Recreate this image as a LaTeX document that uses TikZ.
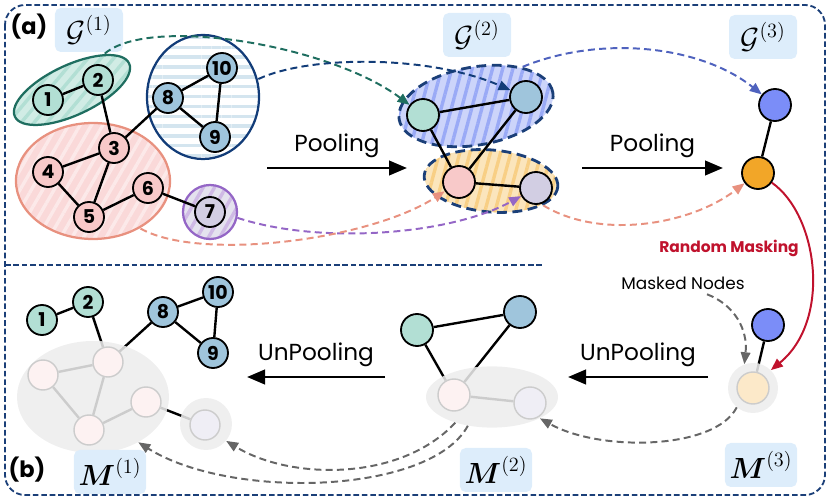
\documentclass[tikz,border=0pt]{standalone}
\usepackage{fontspec}
\setmainfont{Poppins}
\usepackage{amsmath, amssymb}
\usepackage{tikz}
\usetikzlibrary{shapes.geometric, arrows.meta, positioning, patterns.meta}

\definecolor{FrameBlue}{HTML}{1B3F78}
\definecolor{TagBlue}{HTML}{DDEDFB}
\definecolor{TealLine}{HTML}{1F6E60}
\definecolor{TealFill}{HTML}{B2DFD4}
\definecolor{PinkLine}{HTML}{E8917F}
\definecolor{PinkFill}{HTML}{F8C9C9}
\definecolor{NavyLine}{HTML}{123C78}
\definecolor{BlueFill}{HTML}{9FC5DC}
\definecolor{PurpLine}{HTML}{9466C6}
\definecolor{PurpFill}{HTML}{D2CEE3}
\definecolor{SuperBlue}{HTML}{7B8DF8}
\definecolor{SuperOrange}{HTML}{F2A628}
\definecolor{HatchBlue}{HTML}{9AAAF6}
\definecolor{HatchOrange}{HTML}{F8CF85}
\definecolor{FlowViolet}{HTML}{4F62BE}
\definecolor{MaskRed}{HTML}{C0122D}
\definecolor{HaloGray}{HTML}{EFEFEF}

\pgfdeclarelayer{wires}
\pgfdeclarelayer{halos}
\pgfdeclarelayer{dimwires}
\pgfsetlayers{wires,halos,dimwires,main}

\begin{document}
\begin{tikzpicture}[x=0.25mm, y=-0.25mm,
    vtx/.style={circle, draw=black, line width=1.3pt, minimum size=7.5mm, inner sep=0pt, font=\fontsize{13.5}{13.5}\selectfont\bfseries},
    bigvtx/.style={vtx, minimum size=8mm},
    ghost/.style={circle, draw=black!20, line width=1pt, minimum size=#1, inner sep=0pt},
    ghost/.default=7.5mm,
    lnk/.style={line width=1.7pt},
    muted/.style={line width=1.7pt, black!20},
    grp/.style={ellipse, line width=1.6pt, inner sep=0pt},
    hatch/.style n args={3}{preaction={fill=#1}, pattern={Lines[angle=#2, distance=7pt, line width=2.4pt]}, pattern color=#3},
    pooled/.style={ellipse, draw=FrameBlue, line width=2pt, dash pattern=on 7pt off 4pt, inner sep=0pt},
    halo/.style={ellipse, fill=HaloGray, inner sep=0pt},
    tag/.style={fill=TagBlue, rounded corners=4pt, minimum width=17mm, minimum height=11mm, font=\fontsize{20}{20}\selectfont},
    flow/.style={line width=1.4pt, dash pattern=on 5pt off 3pt, -{Triangle[length=3mm, width=2.4mm]}},
    pool/.style={line width=2pt, -{Triangle[length=4.5mm, width=3.6mm]}},
    word/.style={font=\fontsize{16.5}{16.5}\selectfont}
]
\useasboundingbox (0,0) rectangle (830,500);

% frame and divider
\draw[FrameBlue, line width=1.3pt, dash pattern=on 4pt off 2pt, rounded corners=5mm] (5,5) rectangle (825,495);
\draw[FrameBlue, line width=1.3pt, dash pattern=on 4pt off 2pt] (5,265) -- (543,265);

\node[font=\fontsize{16}{16}\selectfont\bfseries] (lba) at (29,27) {(a)};
\node[font=\fontsize{16}{16}\selectfont\bfseries] (lbb) at (27,470) {(b)};

% level tags
\node[tag] (t1) at (89,30) {$\mathcal{G}^{(1)}$};
\node[tag] (t2) at (477,35) {$\mathcal{G}^{(2)}$};
\node[tag] (t3) at (763,37) {$\mathcal{G}^{(3)}$};
\node[tag] (t4) at (110,472) {$\boldsymbol{M}^{(1)}$};
\node[tag] (t5) at (496,470) {$\boldsymbol{M}^{(2)}$};
\node[tag] (t6) at (761,465) {$\boldsymbol{M}^{(3)}$};

% (a) graph 1 clusters
\node[grp, draw=TealLine, hatch={TealFill!60}{50}{TealFill}, minimum width=31.5mm, minimum height=12.5mm, rotate=25] (c12) at (72,90) {};
\node[grp, draw=PinkLine, hatch={PinkFill!70}{60}{white!60!PinkFill}, minimum width=38.5mm, minimum height=29mm] (c3456) at (93,181) {};
\node[grp, draw=NavyLine, hatch={white}{0}{BlueFill!45}, minimum width=28mm, minimum height=31mm] (c8910) at (203,97) {};
\node[grp, draw=PurpLine, hatch={PurpFill!60}{60}{PurpLine!45}, minimum size=13.5mm] (c7) at (210,212) {};

% (a) graph 1 nodes
\node[vtx, fill=TealFill] (a1) at (48,100) {1};
\node[vtx, fill=TealFill] (a2) at (98,80) {2};
\node[vtx, fill=PinkFill] (a3) at (114,148) {3};
\node[vtx, fill=PinkFill] (a4) at (48,172) {4};
\node[vtx, fill=PinkFill] (a5) at (89,217) {5};
\node[vtx, fill=PinkFill] (a6) at (148,188) {6};
\node[vtx, fill=PurpFill] (a7) at (210,212) {7};
\node[vtx, fill=BlueFill] (a8) at (168,98) {8};
\node[vtx, fill=BlueFill] (a9) at (215,137) {9};
\node[vtx, fill=BlueFill] (a10) at (222,68) {10};
\foreach \u/\v in {a1/a2, a2/a3, a3/a4, a3/a5, a4/a5, a5/a6, a6/a7, a3/a8, a8/a10, a8/a9, a9/a10}
    \draw[lnk] (\u) -- (\v);

% (a) graph 2
\node[pooled, hatch={HatchBlue!50}{75}{HatchBlue}, minimum width=39mm, minimum height=19.5mm, rotate=10] (s1) at (476,106) {};
\node[pooled, hatch={HatchOrange!55}{75}{HatchOrange}, minimum width=33.5mm, minimum height=15.5mm, rotate=-5] (s2) at (491,181) {};
\node[bigvtx, fill=TealFill] (b1) at (423,115) {};
\node[bigvtx, fill=BlueFill] (b2) at (526,97) {};
\node[bigvtx, fill=PinkFill] (b3) at (459,182) {};
\node[bigvtx, fill=PurpFill] (b4) at (536,188) {};
\foreach \u/\v in {b1/b2, b1/b3, b2/b3, b3/b4}
    \draw[lnk] (\u) -- (\v);

% (a) graph 3
\node[bigvtx, fill=SuperBlue] (g1) at (775,105) {};
\node[bigvtx, fill=SuperOrange] (g2) at (758,173) {};
\draw[lnk] (g1) -- (g2);

% pooling arrows
\coordinate (p1s) at (267,168);
\coordinate (p1e) at (407,168);
\coordinate (p2s) at (582,168);
\coordinate (p2e) at (723,168);
\draw[pool] (p1s) -- (p1e) node[midway, above=1mm, word] (w1) {Pooling};
\draw[pool] (p2s) -- (p2e) node[midway, above=1mm, word] (w2) {Pooling};

% cluster-to-supernode flows
\draw[flow, TealLine] (c12.23) .. controls (150,15) and (330,45) .. (b1);
\draw[flow, NavyLine] (c8910.18) .. controls (310,55) and (430,55) .. (b2);
\draw[flow, FlowViolet] (s1.30) .. controls (600,35) and (700,45) .. (g1);
\draw[flow, PurpLine] (c7.-12) .. controls (320,245) and (450,235) .. (b4);
\draw[flow, PinkLine] (c3456.-45) .. controls (200,262) and (370,240) .. (b3);
\draw[flow, PinkLine] (s2.-20) .. controls (600,240) and (690,225) .. (g2);

% (b) halos of masked nodes
\begin{pgfonlayer}{halos}
\node[halo, minimum width=38mm, minimum height=28mm] (m1h) at (93,397) {};
\node[halo, circle, minimum size=13mm] (m1g) at (206,424) {};
\node[halo, minimum width=33mm, minimum height=15.3mm] (m2h) at (492,397) {};
\node[halo, circle, minimum size=12.5mm] (m3h) at (753,388) {};
\end{pgfonlayer}

% (b) masked graph 1
\node[vtx, fill=TealFill] (d1) at (42,320) {1};
\node[vtx, fill=TealFill] (d2) at (88,302) {2};
\node[vtx, fill=BlueFill] (d8) at (163,312) {8};
\node[vtx, fill=BlueFill] (d10) at (218,292) {10};
\node[vtx, fill=BlueFill] (d9) at (213,353) {9};
\node[ghost, fill=PinkFill!25] (d3) at (108,362) {};
\node[ghost, fill=PinkFill!25] (d4) at (43,375) {};
\node[ghost, fill=PinkFill!25] (d5) at (89,430) {};
\node[ghost, fill=PinkFill!25] (d6) at (146,402) {};
\node[ghost, fill=PurpFill!35] (d7) at (205,425) {};

% (b) masked graph 2
\node[bigvtx, fill=TealFill] (e1) at (417,330) {};
\node[bigvtx, fill=BlueFill] (e2) at (520,312) {};
\node[ghost=8mm, fill=PinkFill!25] (e3) at (454,395) {};
\node[ghost=8mm, fill=PurpFill!35] (e4) at (530,403) {};

% (b) masked graph 3
\node[bigvtx, fill=SuperBlue] (f1) at (768,325) {};
\node[ghost=8mm, fill=SuperOrange!25] (f2) at (753,388) {};

% visible edges, hidden under the halos
\begin{pgfonlayer}{wires}
\foreach \u/\v in {d1/d2, d2/d3, d3/d8, d8/d10, d8/d9, d9/d10, d6/d7, e1/e2, e1/e3, e2/e3, f1/f2}
    \draw[lnk] (\u) -- (\v);
\end{pgfonlayer}

% faded edges inside the halos
\begin{pgfonlayer}{dimwires}
\foreach \u/\v in {d3/d4, d3/d5, d4/d5, d5/d6, e3/e4}
    \draw[muted] (\u) -- (\v);
\begin{scope}
    \clip (93,397) ellipse [x radius=19mm, y radius=14mm];
    \draw[muted] (d2) -- (d3) (d3) -- (d8) (d6) -- (d7);
\end{scope}
\begin{scope}
    \clip (206,424) circle [radius=6.5mm];
    \draw[muted] (d6) -- (d7);
\end{scope}
\begin{scope}
    \clip (492,397) ellipse [x radius=16.5mm, y radius=7.65mm];
    \draw[muted] (e1) -- (e3) (e2) -- (e3);
\end{scope}
\begin{scope}
    \clip (753,388) circle [radius=6.25mm];
    \draw[muted] (f1) -- (f2);
\end{scope}
\end{pgfonlayer}

% random masking
\draw[MaskRed, line width=1.4pt, -{Triangle[length=3mm, width=2.4mm]}] (g2.-35) .. controls (818,215) and (832,320) .. (m3h.45);
\node[font=\fontsize{11}{11}\selectfont\bfseries, text=MaskRed] (rm) at (729,248) {Random Masking};
\node[font=\fontsize{12}{12}\selectfont] (mk) at (683,283) {Masked Nodes};
\draw[flow, black!60] ([xshift=6mm]mk.south) .. controls (735,305) and (748,330) .. (m3h.110);

% unpooling arrows
\coordinate (u1s) at (708,377);
\coordinate (u1e) at (568,377);
\coordinate (u2s) at (385,377);
\coordinate (u2e) at (247,377);
\draw[pool] (u1s) -- (u1e) node[midway, above=1mm, word] (w3) {UnPooling};
\draw[pool] (u2s) -- (u2e) node[midway, above=1mm, word] (w4) {UnPooling};

% unpooling flows
\draw[flow, black!60] (m3h.-130) .. controls (715,450) and (600,452) .. (m2h.-24);
\draw[flow, black!60] (m2h.-130) .. controls (430,495) and (230,500) .. (m1h.-45);
\draw[flow, black!60] (m2h.-145) .. controls (400,482) and (290,480) .. (m1g.-40);
\end{tikzpicture}
\end{document}
